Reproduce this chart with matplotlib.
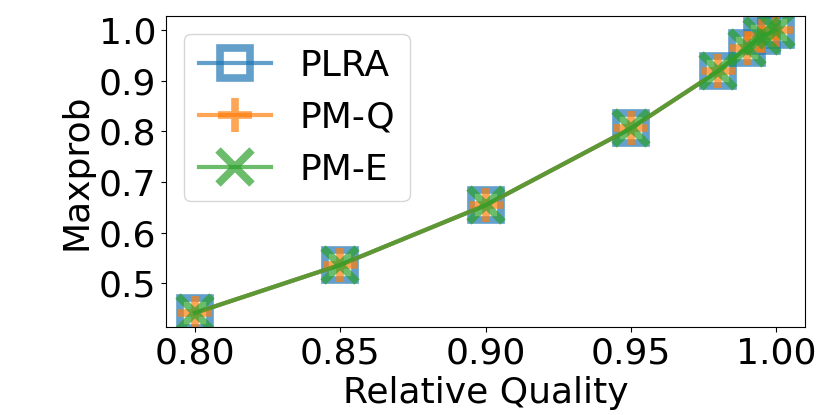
import numpy as np
import matplotlib
matplotlib.use("Agg")
import matplotlib.pyplot as plt

quality = [0.80, 0.85, 0.90, 0.95, 0.98, 0.99, 0.995, 1.00]
plra = [0.441, 0.536, 0.654, 0.806, 0.919, 0.966, 0.988, 1.000]
pm_q = [0.441, 0.536, 0.654, 0.806, 0.919, 0.966, 0.988, 1.000]
pm_e = [0.441, 0.536, 0.654, 0.806, 0.919, 0.966, 0.988, 1.000]

fs = 26
fig = plt.figure(figsize=(8.3, 4.15), dpi=100)
ax = fig.add_axes([0.2, 0.212, 0.77, 0.749])

ax.plot(quality, plra, marker='s', markersize=22, markeredgewidth=5.5,
        fillstyle='none', linewidth=3, alpha=0.7, label="PLRA")
ax.plot(quality, pm_q, marker='+', markersize=24, markeredgewidth=5.5,
        linewidth=3, alpha=0.7, label="PM-Q")
ax.plot(quality, pm_e, marker='x', markersize=24, markeredgewidth=5.5,
        linewidth=3, alpha=0.7, label="PM-E")

ax.set_xticks([0.80, 0.85, 0.90, 0.95, 1.00])
ax.set_yticks([0.5, 0.6, 0.7, 0.8, 0.9, 1.0])
ax.tick_params(labelsize=fs)
ax.set_xlabel("Relative Quality", fontsize=fs)
ax.set_ylabel("Maxprob", fontsize=fs)
ax.legend(loc="upper left", fontsize=fs)

plt.savefig("out.png")
